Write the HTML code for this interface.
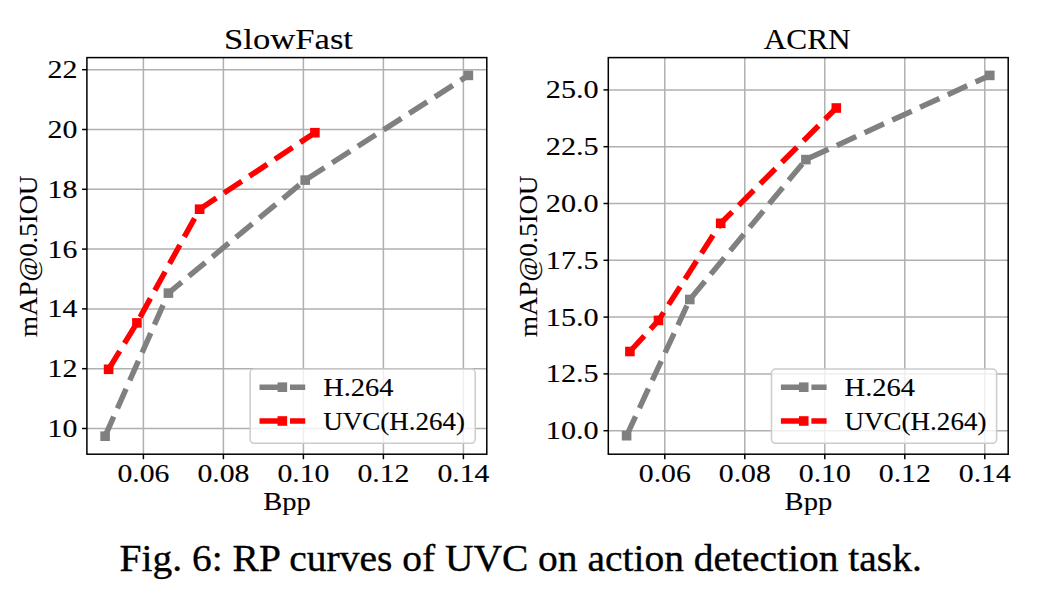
<!DOCTYPE html>
<html><head><meta charset="utf-8"><style>
html,body{margin:0;padding:0;background:#fff;width:1044px;height:603px;overflow:hidden}
svg{display:block}
text{font-family:"Liberation Serif", serif;fill:#000;stroke:#000;stroke-width:0.12px}
.cap{stroke-width:0.35px}
</style></head><body>
<svg width="1044" height="603" viewBox="0 0 1044 603">
<rect width="1044" height="603" fill="#fff"/>
<line x1="143.4" y1="57.6" x2="143.4" y2="454.2" stroke="#b0b0b0" stroke-width="1.5"/>
<line x1="223.4" y1="57.6" x2="223.4" y2="454.2" stroke="#b0b0b0" stroke-width="1.5"/>
<line x1="303.4" y1="57.6" x2="303.4" y2="454.2" stroke="#b0b0b0" stroke-width="1.5"/>
<line x1="383.4" y1="57.6" x2="383.4" y2="454.2" stroke="#b0b0b0" stroke-width="1.5"/>
<line x1="463.4" y1="57.6" x2="463.4" y2="454.2" stroke="#b0b0b0" stroke-width="1.5"/>
<line x1="86.9" y1="428.5" x2="486.8" y2="428.5" stroke="#b0b0b0" stroke-width="1.5"/>
<line x1="86.9" y1="368.7" x2="486.8" y2="368.7" stroke="#b0b0b0" stroke-width="1.5"/>
<line x1="86.9" y1="308.9" x2="486.8" y2="308.9" stroke="#b0b0b0" stroke-width="1.5"/>
<line x1="86.9" y1="249.1" x2="486.8" y2="249.1" stroke="#b0b0b0" stroke-width="1.5"/>
<line x1="86.9" y1="189.3" x2="486.8" y2="189.3" stroke="#b0b0b0" stroke-width="1.5"/>
<line x1="86.9" y1="129.5" x2="486.8" y2="129.5" stroke="#b0b0b0" stroke-width="1.5"/>
<line x1="86.9" y1="69.7" x2="486.8" y2="69.7" stroke="#b0b0b0" stroke-width="1.5"/>
<path d="M105.1,436.2 L168.4,293.1 L305.2,180.1 L468.4,75.4" fill="none" stroke="#808080" stroke-width="5.5" stroke-dasharray="21.3 9.2" stroke-linejoin="round"/><rect x="100.3" y="431.4" width="9.6" height="9.6" fill="#808080"/><rect x="163.6" y="288.3" width="9.6" height="9.6" fill="#808080"/><rect x="300.4" y="175.3" width="9.6" height="9.6" fill="#808080"/><rect x="463.6" y="70.6" width="9.6" height="9.6" fill="#808080"/>
<path d="M108.6,369.3 L136.9,322.9 L199.6,209.2 L314.9,132.7" fill="none" stroke="#ff0000" stroke-width="5.5" stroke-dasharray="21.3 9.2" stroke-linejoin="round"/><rect x="103.8" y="364.5" width="9.6" height="9.6" fill="#ff0000"/><rect x="132.1" y="318.1" width="9.6" height="9.6" fill="#ff0000"/><rect x="194.8" y="204.4" width="9.6" height="9.6" fill="#ff0000"/><rect x="310.1" y="127.9" width="9.6" height="9.6" fill="#ff0000"/>
<rect x="250.1" y="369.1" width="225.1" height="74.2" rx="4" ry="4" fill="rgba(255,255,255,0.8)" stroke="#cccccc" stroke-width="1.5"/>
<line x1="259.5" y1="387.2" x2="305.2" y2="387.2" stroke="#808080" stroke-width="5.5" stroke-dasharray="21.3 9.2"/>
<rect x="277.55" y="382.4" width="9.6" height="9.6" fill="#808080"/>
<text x="323.2" y="395.8" font-size="25.0" textLength="70.4" lengthAdjust="spacingAndGlyphs">H.264</text>
<line x1="259.5" y1="421.0" x2="305.2" y2="421.0" stroke="#ff0000" stroke-width="5.5" stroke-dasharray="21.3 9.2"/>
<rect x="277.55" y="416.2" width="9.6" height="9.6" fill="#ff0000"/>
<text x="323.2" y="429.6" font-size="25.0" textLength="141.8" lengthAdjust="spacingAndGlyphs">UVC(H.264)</text>
<rect x="86.9" y="57.6" width="399.9" height="396.6" fill="none" stroke="#000" stroke-width="1.5"/>
<line x1="143.4" y1="454.2" x2="143.4" y2="459.2" stroke="#000" stroke-width="1.5"/>
<text x="143.4" y="481.8" font-size="25.0" text-anchor="middle" textLength="52" lengthAdjust="spacingAndGlyphs">0.06</text>
<line x1="223.4" y1="454.2" x2="223.4" y2="459.2" stroke="#000" stroke-width="1.5"/>
<text x="223.4" y="481.8" font-size="25.0" text-anchor="middle" textLength="52" lengthAdjust="spacingAndGlyphs">0.08</text>
<line x1="303.4" y1="454.2" x2="303.4" y2="459.2" stroke="#000" stroke-width="1.5"/>
<text x="303.4" y="481.8" font-size="25.0" text-anchor="middle" textLength="52" lengthAdjust="spacingAndGlyphs">0.10</text>
<line x1="383.4" y1="454.2" x2="383.4" y2="459.2" stroke="#000" stroke-width="1.5"/>
<text x="383.4" y="481.8" font-size="25.0" text-anchor="middle" textLength="52" lengthAdjust="spacingAndGlyphs">0.12</text>
<line x1="463.4" y1="454.2" x2="463.4" y2="459.2" stroke="#000" stroke-width="1.5"/>
<text x="463.4" y="481.8" font-size="25.0" text-anchor="middle" textLength="52" lengthAdjust="spacingAndGlyphs">0.14</text>
<line x1="82.10000000000001" y1="428.5" x2="86.9" y2="428.5" stroke="#000" stroke-width="1.5"/>
<text x="77.3" y="437" font-size="25.0" text-anchor="end" textLength="29.8" lengthAdjust="spacingAndGlyphs">10</text>
<line x1="82.10000000000001" y1="368.7" x2="86.9" y2="368.7" stroke="#000" stroke-width="1.5"/>
<text x="77.3" y="377.2" font-size="25.0" text-anchor="end" textLength="29.8" lengthAdjust="spacingAndGlyphs">12</text>
<line x1="82.10000000000001" y1="308.9" x2="86.9" y2="308.9" stroke="#000" stroke-width="1.5"/>
<text x="77.3" y="317.4" font-size="25.0" text-anchor="end" textLength="29.8" lengthAdjust="spacingAndGlyphs">14</text>
<line x1="82.10000000000001" y1="249.1" x2="86.9" y2="249.1" stroke="#000" stroke-width="1.5"/>
<text x="77.3" y="257.6" font-size="25.0" text-anchor="end" textLength="29.8" lengthAdjust="spacingAndGlyphs">16</text>
<line x1="82.10000000000001" y1="189.3" x2="86.9" y2="189.3" stroke="#000" stroke-width="1.5"/>
<text x="77.3" y="197.8" font-size="25.0" text-anchor="end" textLength="29.8" lengthAdjust="spacingAndGlyphs">18</text>
<line x1="82.10000000000001" y1="129.5" x2="86.9" y2="129.5" stroke="#000" stroke-width="1.5"/>
<text x="77.3" y="138" font-size="25.0" text-anchor="end" textLength="29.8" lengthAdjust="spacingAndGlyphs">20</text>
<line x1="82.10000000000001" y1="69.7" x2="86.9" y2="69.7" stroke="#000" stroke-width="1.5"/>
<text x="77.3" y="78.2" font-size="25.0" text-anchor="end" textLength="29.8" lengthAdjust="spacingAndGlyphs">22</text>
<text x="287" y="509.9" font-size="25.0" text-anchor="middle" textLength="47.6" lengthAdjust="spacingAndGlyphs">Bpp</text>
<text transform="translate(37.4,256.2) rotate(-90)" x="0" y="0" font-size="25.0" text-anchor="middle" textLength="161.4" lengthAdjust="spacingAndGlyphs">mAP@0.5IOU</text>
<text x="288.5" y="48.8" font-size="29.5" text-anchor="middle" textLength="129" lengthAdjust="spacingAndGlyphs">SlowFast</text>
<line x1="664.8" y1="57.6" x2="664.8" y2="454.2" stroke="#b0b0b0" stroke-width="1.5"/>
<line x1="744.8" y1="57.6" x2="744.8" y2="454.2" stroke="#b0b0b0" stroke-width="1.5"/>
<line x1="824.8" y1="57.6" x2="824.8" y2="454.2" stroke="#b0b0b0" stroke-width="1.5"/>
<line x1="904.8" y1="57.6" x2="904.8" y2="454.2" stroke="#b0b0b0" stroke-width="1.5"/>
<line x1="984.8" y1="57.6" x2="984.8" y2="454.2" stroke="#b0b0b0" stroke-width="1.5"/>
<line x1="608.3" y1="430.7" x2="1008.2" y2="430.7" stroke="#b0b0b0" stroke-width="1.5"/>
<line x1="608.3" y1="373.9" x2="1008.2" y2="373.9" stroke="#b0b0b0" stroke-width="1.5"/>
<line x1="608.3" y1="317.1" x2="1008.2" y2="317.1" stroke="#b0b0b0" stroke-width="1.5"/>
<line x1="608.3" y1="260.3" x2="1008.2" y2="260.3" stroke="#b0b0b0" stroke-width="1.5"/>
<line x1="608.3" y1="203.5" x2="1008.2" y2="203.5" stroke="#b0b0b0" stroke-width="1.5"/>
<line x1="608.3" y1="146.7" x2="1008.2" y2="146.7" stroke="#b0b0b0" stroke-width="1.5"/>
<line x1="608.3" y1="89.9" x2="1008.2" y2="89.9" stroke="#b0b0b0" stroke-width="1.5"/>
<path d="M626.6,435.7 L689.8,299.5 L805.9,159.6 L989.8,75.4" fill="none" stroke="#808080" stroke-width="5.5" stroke-dasharray="21.3 9.2" stroke-linejoin="round"/><rect x="621.8" y="430.9" width="9.6" height="9.6" fill="#808080"/><rect x="685" y="294.7" width="9.6" height="9.6" fill="#808080"/><rect x="801.1" y="154.8" width="9.6" height="9.6" fill="#808080"/><rect x="985" y="70.6" width="9.6" height="9.6" fill="#808080"/>
<path d="M629.9,351.5 L658.5,320.4 L720.7,223.3 L836.3,108" fill="none" stroke="#ff0000" stroke-width="5.5" stroke-dasharray="21.3 9.2" stroke-linejoin="round"/><rect x="625.1" y="346.7" width="9.6" height="9.6" fill="#ff0000"/><rect x="653.7" y="315.6" width="9.6" height="9.6" fill="#ff0000"/><rect x="715.9" y="218.5" width="9.6" height="9.6" fill="#ff0000"/><rect x="831.5" y="103.2" width="9.6" height="9.6" fill="#ff0000"/>
<rect x="771.5" y="369.1" width="225.1" height="74.2" rx="4" ry="4" fill="rgba(255,255,255,0.8)" stroke="#cccccc" stroke-width="1.5"/>
<line x1="780.9" y1="387.2" x2="826.6" y2="387.2" stroke="#808080" stroke-width="5.5" stroke-dasharray="21.3 9.2"/>
<rect x="798.95" y="382.4" width="9.6" height="9.6" fill="#808080"/>
<text x="844.6" y="395.8" font-size="25.0" textLength="70.4" lengthAdjust="spacingAndGlyphs">H.264</text>
<line x1="780.9" y1="421.0" x2="826.6" y2="421.0" stroke="#ff0000" stroke-width="5.5" stroke-dasharray="21.3 9.2"/>
<rect x="798.95" y="416.2" width="9.6" height="9.6" fill="#ff0000"/>
<text x="844.6" y="429.6" font-size="25.0" textLength="141.8" lengthAdjust="spacingAndGlyphs">UVC(H.264)</text>
<rect x="608.3" y="57.6" width="399.9" height="396.6" fill="none" stroke="#000" stroke-width="1.5"/>
<line x1="664.8" y1="454.2" x2="664.8" y2="459.2" stroke="#000" stroke-width="1.5"/>
<text x="664.8" y="481.8" font-size="25.0" text-anchor="middle" textLength="52" lengthAdjust="spacingAndGlyphs">0.06</text>
<line x1="744.8" y1="454.2" x2="744.8" y2="459.2" stroke="#000" stroke-width="1.5"/>
<text x="744.8" y="481.8" font-size="25.0" text-anchor="middle" textLength="52" lengthAdjust="spacingAndGlyphs">0.08</text>
<line x1="824.8" y1="454.2" x2="824.8" y2="459.2" stroke="#000" stroke-width="1.5"/>
<text x="824.8" y="481.8" font-size="25.0" text-anchor="middle" textLength="52" lengthAdjust="spacingAndGlyphs">0.10</text>
<line x1="904.8" y1="454.2" x2="904.8" y2="459.2" stroke="#000" stroke-width="1.5"/>
<text x="904.8" y="481.8" font-size="25.0" text-anchor="middle" textLength="52" lengthAdjust="spacingAndGlyphs">0.12</text>
<line x1="984.8" y1="454.2" x2="984.8" y2="459.2" stroke="#000" stroke-width="1.5"/>
<text x="984.8" y="481.8" font-size="25.0" text-anchor="middle" textLength="52" lengthAdjust="spacingAndGlyphs">0.14</text>
<line x1="603.5" y1="430.7" x2="608.3" y2="430.7" stroke="#000" stroke-width="1.5"/>
<text x="598.6" y="439.2" font-size="25.0" text-anchor="end" textLength="52.8" lengthAdjust="spacingAndGlyphs">10.0</text>
<line x1="603.5" y1="373.9" x2="608.3" y2="373.9" stroke="#000" stroke-width="1.5"/>
<text x="598.6" y="382.4" font-size="25.0" text-anchor="end" textLength="52.8" lengthAdjust="spacingAndGlyphs">12.5</text>
<line x1="603.5" y1="317.1" x2="608.3" y2="317.1" stroke="#000" stroke-width="1.5"/>
<text x="598.6" y="325.6" font-size="25.0" text-anchor="end" textLength="52.8" lengthAdjust="spacingAndGlyphs">15.0</text>
<line x1="603.5" y1="260.3" x2="608.3" y2="260.3" stroke="#000" stroke-width="1.5"/>
<text x="598.6" y="268.8" font-size="25.0" text-anchor="end" textLength="52.8" lengthAdjust="spacingAndGlyphs">17.5</text>
<line x1="603.5" y1="203.5" x2="608.3" y2="203.5" stroke="#000" stroke-width="1.5"/>
<text x="598.6" y="212" font-size="25.0" text-anchor="end" textLength="52.8" lengthAdjust="spacingAndGlyphs">20.0</text>
<line x1="603.5" y1="146.7" x2="608.3" y2="146.7" stroke="#000" stroke-width="1.5"/>
<text x="598.6" y="155.2" font-size="25.0" text-anchor="end" textLength="52.8" lengthAdjust="spacingAndGlyphs">22.5</text>
<line x1="603.5" y1="89.9" x2="608.3" y2="89.9" stroke="#000" stroke-width="1.5"/>
<text x="598.6" y="98.4" font-size="25.0" text-anchor="end" textLength="52.8" lengthAdjust="spacingAndGlyphs">25.0</text>
<text x="808.4" y="509.9" font-size="25.0" text-anchor="middle" textLength="47.6" lengthAdjust="spacingAndGlyphs">Bpp</text>
<text transform="translate(537.2,256.2) rotate(-90)" x="0" y="0" font-size="25.0" text-anchor="middle" textLength="161.4" lengthAdjust="spacingAndGlyphs">mAP@0.5IOU</text>
<text x="807.2" y="48.8" font-size="29.5" text-anchor="middle" textLength="87" lengthAdjust="spacingAndGlyphs">ACRN</text>
<text class="cap" x="119.6" y="570.5" font-size="37.8" textLength="802.2" lengthAdjust="spacingAndGlyphs">Fig. 6: RP curves of UVC on action detection task.</text>
</svg>
</body></html>
